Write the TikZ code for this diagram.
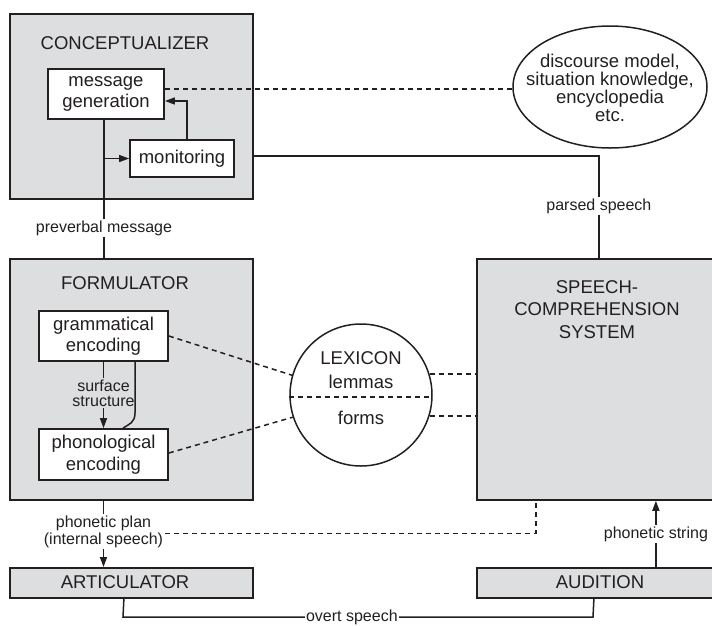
\documentclass[tikz,border=0pt]{standalone}
\usepackage{fontspec}
\setmainfont{Liberation Sans}
\usetikzlibrary{arrows.meta,shapes.geometric}
\definecolor{boxgray}{RGB}{221,222,224}
\definecolor{ink}{RGB}{35,31,32}
\newcommand\myBig{\fontsize{18.5}{21.5}\selectfont}
\newcommand\mySmall{\fontsize{16}{16}\selectfont}
\tikzset{
  bigbox/.style={draw=ink, fill=boxgray, line width=1.8pt, anchor=north west, inner sep=0pt},
  smallbox/.style={draw=ink, fill=white, line width=1.8pt, align=center, inner sep=0pt, font=\myBig, text=ink},
  title/.style={font=\myBig, align=center, text=ink, inner sep=0pt},
  conn/.style={draw=ink, line width=1.5pt},
  arr/.style={conn, -{Triangle[length=10pt,width=7pt]}},
  dsh/.style={conn, dash pattern=on 5pt off 4pt},
  lbl/.style={font=\mySmall, fill=white, inner sep=1.5pt, align=center, text=ink},
}
\begin{document}
\begin{tikzpicture}[x=1pt,y=-1pt]
\useasboundingbox (0,0) rectangle (712,625);
% big boxes
\node[bigbox, minimum width=243pt, minimum height=185pt] (concept) at (9,13) {};
\node[bigbox, minimum width=243pt, minimum height=241pt] (form) at (9,258) {};
\node[bigbox, minimum width=244pt, minimum height=241pt] (scs) at (476,258) {};
\node[bigbox, minimum width=243pt, minimum height=30pt] (artic) at (9,567) {};
\node[bigbox, minimum width=244pt, minimum height=30pt] (aud) at (476,567) {};
% titles
\node[title] (tconcept) at (125,43) {CONCEPTUALIZER};
\node[title] (tform) at (125,283) {FORMULATOR};
\node[title, font=\fontsize{18.5}{22.5}\selectfont] (tscs) at (597,309.5) {SPEECH-\\COMPREHENSION\\SYSTEM};
\node[title] (tartic) at (125,582) {ARTICULATOR};
\node[title] (taud) at (600,582) {AUDITION};
% inner boxes
\node[smallbox, minimum width=116pt, minimum height=50pt] (msg) at (106,94) {message\\generation};
\node[smallbox, minimum width=104pt, minimum height=37pt] (mon) at (182,158.5) {monitoring};
\node[smallbox, minimum width=129pt, minimum height=50pt] (gram) at (103.5,336) {grammatical\\encoding};
\node[smallbox, minimum width=129pt, minimum height=51pt] (phon) at (103.5,454.5) {phonological\\encoding};
% ellipse
\node[draw=ink, line width=1.5pt, ellipse, minimum width=194pt, minimum height=122pt, inner sep=0pt] (ell) at (610,87) {};
\node[title, font=\fontsize{18.5}{18}\selectfont] (tell) at (610,88)
      {discourse model,\\situation knowledge,\\encyclopedia\\etc.};
% lexicon
\node[draw=ink, line width=1.5pt, circle, minimum size=142pt, inner sep=0pt] (lex) at (361,395) {};
\node[title] (tlex) at (361,358) {LEXICON};
\node[title] (tlem) at (361,382) {lemmas};
\node[title] (tfrm) at (361,418) {forms};
\draw[dsh] ([yshift=-2pt]lex.west) -- ([yshift=-2pt]lex.east);
% connectors
\draw[conn] ([xshift=-2pt]msg.south) -- node[lbl, pos=0.784] {preverbal message} ([xshift=-2pt]msg.south |- form.north);
\coordinate (j1) at (104,158.5);
\draw[arr] (j1) -- (mon.west);
\draw[arr] ([xshift=5pt]mon.north) |- ([yshift=-7pt]msg.east);
\draw[dsh] ([yshift=5pt]msg.east) -- ([yshift=5pt]msg.east -| ell.west);
\draw[conn] ([yshift=2.5pt]concept.east |- mon.center) -| node[lbl, pos=0.745] {parsed speech} (scs.north);
\draw[dsh] (gram.east) -- (lex.164);
\draw[dsh] ([yshift=1.5pt]phon.east) -- (lex.198);
\draw[dsh] (lex.17) -- (lex.17 -| scs.west);
\draw[dsh] (lex.-17) -- (lex.-17 -| scs.west);
\draw[arr] (gram.south) -- node[lbl, fill=boxgray, pos=0.47, font=\fontsize{16}{15}\selectfont] {surface\\structure} (phon.north);
\draw[conn] ([xshift=31.5pt]gram.south) -- ++(0,51) .. controls +(0,10) and +(6,-4) .. ([xshift=19.5pt]phon.north);
\draw[arr] (form.south -| gram.south) -- node[lbl, pos=0.47, font=\fontsize{16}{17}\selectfont] (pp) {phonetic plan\\(internal speech)} (artic.north -| gram.south);
\draw[dsh] ([yshift=-1.5pt]pp.east) -| ([xshift=-63pt]scs.south);
\draw[arr] ([xshift=57pt]aud.north) -- node[lbl, pos=0.5] {phonetic string} ([xshift=57pt]scs.south);
\coordinate (oL) at (123,617);
\coordinate (oR) at (593,617);
\draw[conn] ([xshift=-7.5pt]artic.south) -- (oL) -- node[lbl, pos=0.487] {overt speech} (oR) -- ([xshift=-5pt]aud.south);
\end{tikzpicture}
\end{document}
